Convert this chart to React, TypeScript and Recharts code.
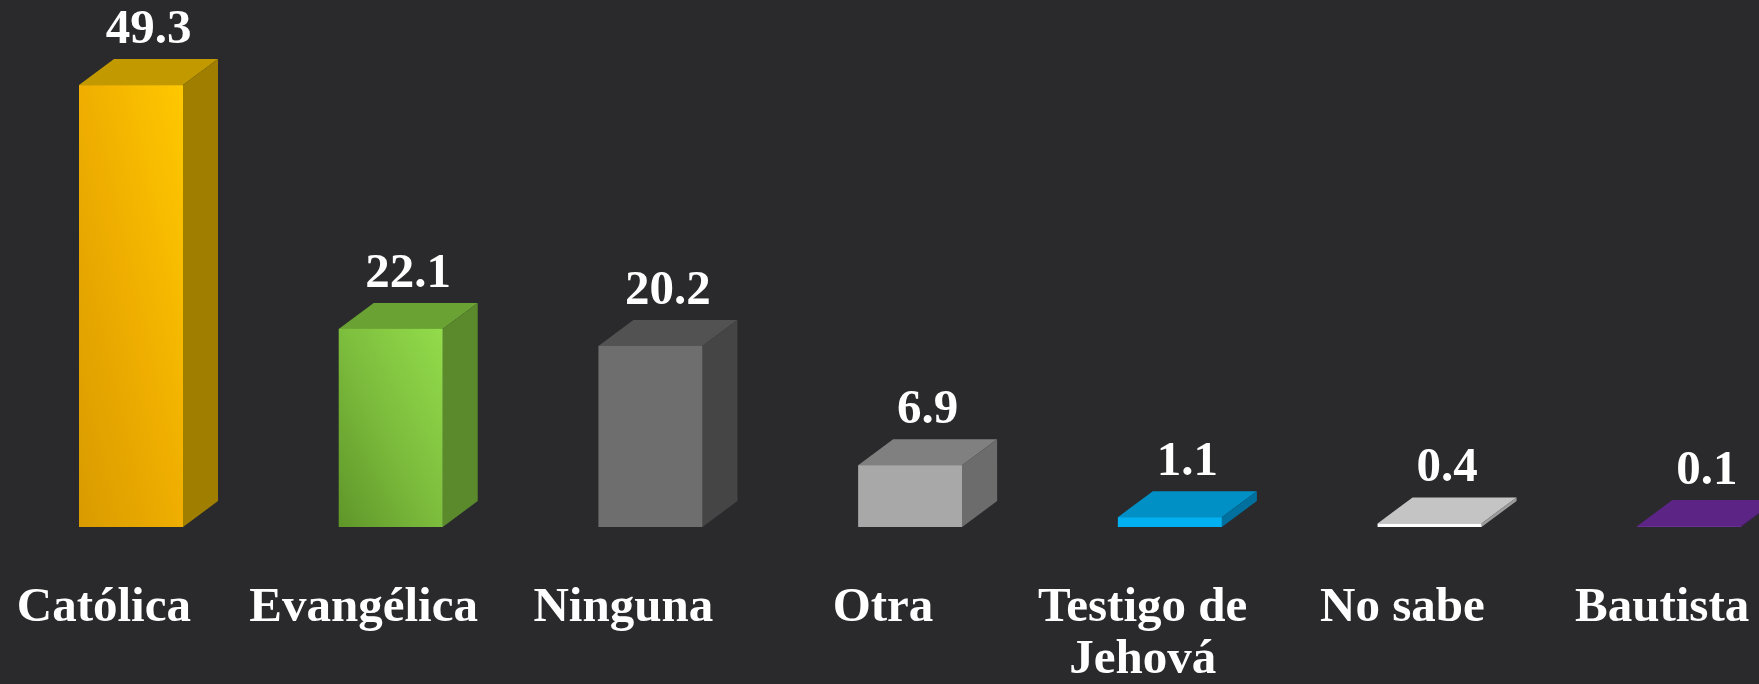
import { BarChart, Bar, XAxis, YAxis, Cell, LabelList } from "recharts";

const categories = ["Católica", "Evangélica", "Ninguna", "Otra", "Testigo de Jehová", "No sabe", "Bautista"];
const values = [49.3, 22.1, 20.2, 6.9, 1.1, 0.4, 0.1];

// front face gradient stops (left/bottom -> right/top), top face, side face
const frontColors = [
  ["#d99a00", "#efae00", "#ffc800"],
  ["#5f9629", "#7dbd3d", "#93dc4b"],
  ["#6e6e6e", "#6e6e6e", "#6e6e6e"],
  ["#a8a8a8", "#a8a8a8", "#a8a8a8"],
  ["#00b0f0", "#00b0f0", "#00b0f0"],
  ["#ffffff", "#ffffff", "#ffffff"],
  ["#7030a0", "#7030a0", "#7030a0"],
];
const topColors = ["#c29a00", "#6aa333", "#525252", "#808080", "#0090c6", "#c4c4c4", "#5c2585"];
const sideColors = ["#a07f00", "#5a8a2c", "#454545", "#6c6c6c", "#00709e", "#9c9c9c", "#4a1d6c"];

const data = categories.map((name, i) => ({ name, value: values[i] }));

const DX = 35;
const DY = 26;
const FONT = '"Liberation Serif", "DejaVu Serif", serif';

function Box3D(props: any) {
  const { x, y, width: w, height: h, index } = props;
  return (
    <g>
      <polygon
        points={`${x},${y} ${x + DX},${y - DY} ${x + w + DX},${y - DY} ${x + w},${y}`}
        fill={topColors[index]}
      />
      <polygon
        points={`${x + w},${y} ${x + w + DX},${y - DY} ${x + w + DX},${y + h - DY} ${x + w},${y + h}`}
        fill={sideColors[index]}
      />
      <rect x={x} y={y} width={w} height={Math.max(h, 0.5)} fill={`url(#front-${index})`} />
    </g>
  );
}

function ValueLabel(props: any) {
  const { x, y, width, value } = props;
  return (
    <text
      x={x + width / 2 + DX / 2}
      y={y - DY - 16}
      textAnchor="middle"
      fill="#ffffff"
      fontSize={49}
      fontWeight="bold"
      fontFamily={FONT}
    >
      {value}
    </text>
  );
}

function wrap(label: string) {
  const words = label.split(" ");
  const lines: string[] = [];
  let cur = "";
  words.forEach((w) => {
    const next = cur ? cur + " " + w : w;
    if (next.length > 11 && cur) {
      lines.push(cur);
      cur = w;
    } else cur = next;
  });
  lines.push(cur);
  return lines;
}

function CategoryTick(props: any) {
  const { x, y, payload } = props;
  const cx = x - 27;
  const lines = wrap(payload.value);
  return (
    <text
      x={cx}
      y={y}
      textAnchor="middle"
      fill="#ffffff"
      fontSize={49}
      fontWeight="bold"
      fontFamily={FONT}
    >
      {lines.map((l, i) => (
        <tspan key={i} x={cx} dy={i === 0 ? 94 : 52}>
          {l}
        </tspan>
      ))}
    </text>
  );
}

export default function App() {
  return (
    <div
      style={{
        position: "fixed",
        left: 0,
        top: 0,
        width: 1759,
        height: 684,
        overflow: "hidden",
        background: "#2a2a2c",
      }}
    >
      <BarChart
        width={1830}
        height={684}
        data={data}
        margin={{ top: 34, right: 11, bottom: 0, left: 1 }}
      >
        <defs>
          {frontColors.map((c, i) => (
            <linearGradient key={i} id={`front-${i}`} x1="0" y1="1" x2="1" y2="0">
              <stop offset="0%" stopColor={c[0]} />
              <stop offset="50%" stopColor={c[1]} />
              <stop offset="100%" stopColor={c[2]} />
            </linearGradient>
          ))}
        </defs>
        <XAxis
          dataKey="name"
          height={157}
          axisLine={false}
          tickLine={false}
          tickSize={0}
          tickMargin={0}
          interval={0}
          tick={<CategoryTick />}
        />
        <YAxis hide domain={[0, 55]} />
        <Bar dataKey="value" barSize={104} shape={<Box3D />} isAnimationActive={false}>
          {data.map((_d, i) => (
            <Cell key={i} />
          ))}
          <LabelList dataKey="value" content={<ValueLabel />} />
        </Bar>
      </BarChart>
    </div>
  );
}
